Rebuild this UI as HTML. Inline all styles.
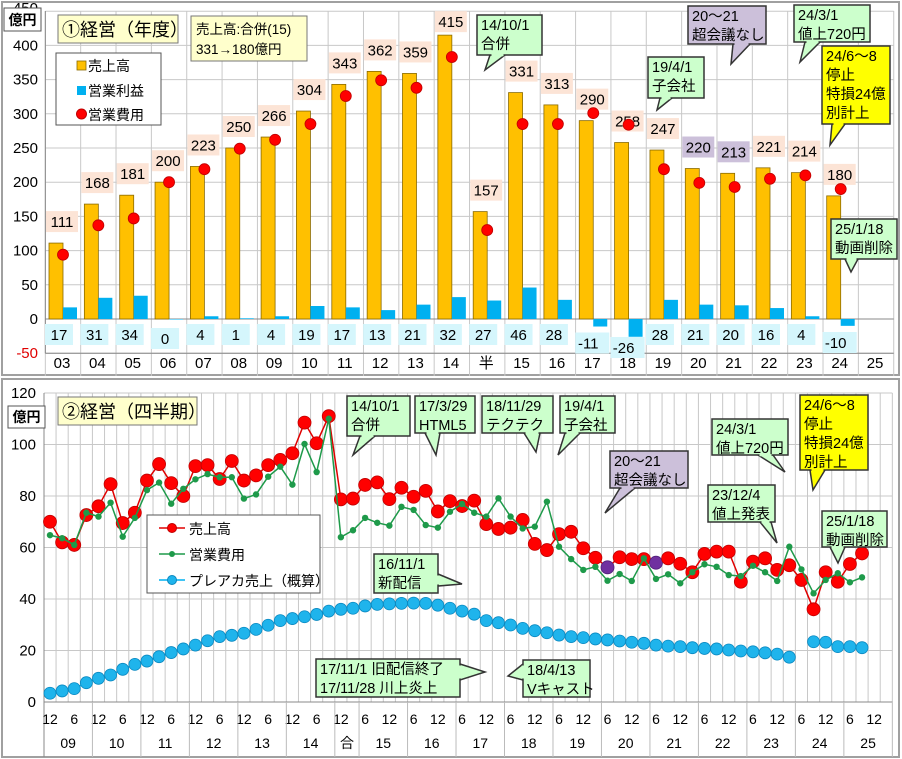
<!DOCTYPE html>
<html><head><meta charset="utf-8">
<style>
html,body{margin:0;padding:0;background:#fff;}
svg{display:block;font-family:"Liberation Sans","Noto Sans CJK JP",sans-serif;}
</style></head>
<body>
<svg id="c" width="902" height="759" viewBox="0 0 902 759" xmlns="http://www.w3.org/2000/svg">
<rect x="0" y="0" width="902" height="759" fill="#fff"/>
<g id="top"></g>
<g id="bot"></g>
<g id="ann"></g>
</svg>
<script>
// ---- annual data ----
const years = ["03","04","05","06","07","08","09","10","11","12","13","14","半","15","16","17","18","19","20","21","22","23","24","25"];
const sales = [111,168,181,200,223,250,266,304,343,362,359,415,157,331,313,290,258,247,220,213,221,214,180];
const profit = [17,31,34,0,4,1,4,19,17,13,21,32,27,46,28,-11,-26,28,21,20,16,4,-10];
const topTicks = [-50,0,50,100,150,200,250,300,350,400];
// ---- quarterly data ----
const qSales = [70,62,61,72.6,76,84.6,69.5,73.5,86,92.4,85,80,91.6,92,86.6,93.6,86,88,92,94,96.6,108.5,100.5,111,78.7,79,84.3,85.3,78.8,83.2,79.7,82,74,78,76.1,78.2,69.1,67.2,67.7,70.7,61.4,59,65.2,66.1,59.7,56,52.3,56.2,55.5,55.5,54.1,55.8,53.7,50.4,57.5,58.4,58.4,46.7,54.5,55.8,51.3,53.1,47.4,36,50.4,46.7,53.6,57.7];
const qExp = [64.8,63.6,61,73.5,72,77.4,64.2,71.5,82.3,85.2,77,82.8,86.5,88.5,87.3,87.3,79,80.6,87.5,91.4,84.4,100.2,89.3,110,64,66.7,71.5,69.6,68.5,75.8,74.6,68.7,67.7,73.9,76.9,73.5,72,79.1,72,67.4,68.1,77.8,60.3,55.5,51.3,52.5,47.1,49.7,47,55.8,47.8,49.6,46.1,50.4,53.5,52.5,49.3,48.9,52.9,50.4,47,60.3,51.5,42.2,47.4,50,46.5,48.4];
const qCard = [3.4,4.3,5.2,7.5,9.2,10.5,12.7,14.6,15.9,17.6,19.2,20.6,22.1,23.8,25.4,25.9,26.7,28.2,29.8,31.6,32.4,33.1,34,35.3,36,36.4,37.3,37.9,38.1,38.3,38.4,38.3,37.6,36.4,35.3,34.1,31.6,30.8,29.9,28.6,27.7,26.9,26,25.4,25,24.5,24.1,23.7,23.2,22.8,22.1,21.7,21.5,21.1,20.8,20.6,20.2,19.8,19.5,19.1,18.6,17.4,null,23.4,23.2,21.5,21.5,21.1];
const purpleIdx = [46,50];
const botTicks = [0,20,40,60,80,100,120];
const qYears = ["09","10","11","12","13","14","合","15","16","17","18","19","20","21","22","23","24","25"];
const qYearLen = [4,4,4,4,4,4,2,4,4,4,4,4,4,4,4,4,4,4];

const NS="http://www.w3.org/2000/svg";
function mk(parent,tag,attrs,txt){const e=document.createElementNS(NS,tag);for(const k in attrs)e.setAttribute(k,attrs[k]);if(txt!==undefined)e.textContent=txt;parent.appendChild(e);return e;}

// ===== TOP CHART =====
const T=document.getElementById('top');
const tY=v=>319-v*0.684;
const CW=35.35;
const tX=k=>63+k*CW;
const tL=tX(0)-CW/2, tR=tX(years.length)-CW/2, tTop=11;
mk(T,'rect',{x:2,y:2,width:897,height:373,fill:'#fff',stroke:'#a0a0a0','stroke-width':2});
for(let v=-50;v<=450;v+=50){mk(T,'line',{x1:tL,x2:tR,y1:tY(v),y2:tY(v),stroke:'#c8c8c8','stroke-width':1});}
for(let k=0;k<=years.length;k++){const x=tX(k)-CW/2;mk(T,'line',{x1:x,x2:x,y1:tTop,y2:376,stroke:'#c8c8c8','stroke-width':1});}
mk(T,'line',{x1:tL,x2:tR,y1:tY(0),y2:tY(0),stroke:'#888','stroke-width':1});
mk(T,'line',{x1:tL,x2:tL,y1:tTop,y2:tY(-50),stroke:'#888','stroke-width':1});
mk(T,'line',{x1:tL,x2:tR,y1:tY(-50),y2:tY(-50),stroke:'#888','stroke-width':1});
topTicks.forEach(v=>{const t=mk(T,'text',{x:38,y:tY(v)+5,'text-anchor':'end','font-size':15,fill:v<0?'#e00000':'#000'},String(v));

});
mk(T,'text',{x:38,y:tY(450)+2,'text-anchor':'end','font-size':15,fill:'#000'},'450');
years.forEach((y,k)=>{const t=mk(T,'text',{x:tX(k)-1,y:368,'text-anchor':'middle','font-size':15},y);

});
sales.forEach((s,k)=>{
 const c=tX(k);
 const b=mk(T,'rect',{x:c-14,y:tY(s),width:14,height:tY(0)-tY(s),fill:'#ffc000',stroke:'#8a6a00','stroke-width':0.8});
 
 
 const p=profit[k];
 const pb=mk(T,'rect',{x:c,y:Math.min(tY(p),tY(0)),width:14,height:Math.max(Math.abs(tY(p)-tY(0)),0.5),fill:'#00b0f0'});
 
 
 const purple=(s===220||s===213);
 let ly=tY(s)-22; if(k===11) ly=tY(s)-14;
 mk(T,'rect',{x:c-17,y:ly-10,width:32,height:21,fill:purple?'#ccc0da':'#fce4d6'});
 const st=mk(T,'text',{x:c-1,y:ly+6,'text-anchor':'middle','font-size':15},String(s));
 
 
 let py=p<0?335+Math.min(-p,20)*0.5+3:335;
 if(p===0) py=339;
 mk(T,'rect',{x:c-18,y:py-11,width:p<0?34:28,height:21,fill:'#d5f6fc'});
 const pt=mk(T,'text',{x:c-4+(p<0?-1:0),y:py+5,'text-anchor':'middle','font-size':15},String(p));
 
 
});
sales.forEach((s,k)=>{const d=mk(T,'circle',{cx:tX(k),cy:tY(s-profit[k]),r:5.5,fill:'#ff0000',stroke:'#c00000','stroke-width':0.8});

});
// header boxes
mk(T,'rect',{x:4,y:8,width:37,height:23,fill:'#fff',stroke:'#555'});
mk(T,'text',{x:22.5,y:25,'text-anchor':'middle','font-size':14,'font-weight':'bold'},'億円');
mk(T,'rect',{x:58,y:15,width:120,height:28,fill:'#ffffcc',stroke:'#777'});
mk(T,'text',{x:62,y:36,'font-size':18},'①経営（年度）');
mk(T,'rect',{x:191,y:16,width:116,height:45,fill:'#ffffcc',stroke:'#777'});
mk(T,'text',{x:196,y:34,'font-size':13.5},'売上高:合併(15)');
mk(T,'text',{x:196,y:54,'font-size':13.5},'331→180億円');
// legend
const lg=mk(T,'g',{});


mk(lg,'rect',{x:56,y:53,width:105,height:72,fill:'#fff',stroke:'#555'});
mk(lg,'rect',{x:77,y:61,width:9,height:9,fill:'#ffc000',stroke:'#8a6a00','stroke-width':0.8});
mk(lg,'text',{x:88,y:71,'font-size':14},'売上高');
mk(lg,'rect',{x:77,y:86,width:9,height:9,fill:'#00b0f0'});
mk(lg,'text',{x:88,y:96,'font-size':14},'営業利益');
mk(lg,'circle',{cx:81.5,cy:114,r:5,fill:'#ff0000',stroke:'#c00000'});
mk(lg,'text',{x:88,y:120,'font-size':14},'営業費用');

// ===== BOTTOM CHART =====
const B=document.getElementById('bot');
const bY=v=>702-v*2.575;
const bX=i=>50+i*12.12;
const bL=44, bR=bX(69.5), bTop=bY(120);
mk(B,'rect',{x:2,y:379,width:897,height:378,fill:'#fff',stroke:'#a0a0a0','stroke-width':2});
for(let i=0;i<=69;i++){const x=bX(i+0.5);mk(B,'line',{x1:x,x2:x,y1:bTop,y2:bY(0),stroke:'#c8c8c8','stroke-width':1});}
botTicks.forEach(v=>{mk(B,'line',{x1:bL,x2:bR,y1:bY(v),y2:bY(v),stroke:'#c8c8c8','stroke-width':1});
const t=mk(B,'text',{x:36,y:bY(v)+5,'text-anchor':'end','font-size':15},String(v));

});
mk(B,'line',{x1:bL,x2:bL,y1:bTop,y2:757,stroke:'#888'});
mk(B,'line',{x1:bL,x2:bR,y1:bY(0),y2:bY(0),stroke:'#888'});
for(let i=0;i<=68;i+=2){const t=mk(B,'text',{x:bX(i),y:724,'text-anchor':'middle','font-size':14},(i/2)%2===0?'12':'6');

}
let start=-0.5;
qYears.forEach((yy,j)=>{const end=start+qYearLen[j];
 mk(B,'line',{x1:bX(end),x2:bX(end),y1:bY(0),y2:757,stroke:'#bbb'});
 const t=mk(B,'text',{x:(bX(start)+bX(end))/2,y:748,'text-anchor':'middle','font-size':14},yy);
 
 
 start=end;});
// card series
let seg=[];const segs=[];
qCard.forEach((v,i)=>{if(v===null){if(seg.length)segs.push(seg);seg=[];}else seg.push([bX(i),bY(v)]);});
if(seg.length)segs.push(seg);
segs.forEach(s=>mk(B,'polyline',{points:s.map(p=>p.join(',')).join(' '),fill:'none',stroke:'#00b0f0','stroke-width':1.5}));
qCard.forEach((v,i)=>{if(v===null)return;const c=mk(B,'circle',{cx:bX(i),cy:bY(v),r:6,fill:'#1fb4ec',stroke:'#0a88c0','stroke-width':0.8});

});
mk(B,'polyline',{points:qSales.map((v,i)=>bX(i)+','+bY(v)).join(' '),fill:'none',stroke:'#e00000','stroke-width':1.5});
qSales.forEach((v,i)=>{const p=purpleIdx.includes(i);const c=mk(B,'circle',{cx:bX(i),cy:bY(v),r:6.5,fill:p?'#7030a0':'#ff0000',stroke:p?'#50207a':'#c00000','stroke-width':0.8});

});
mk(B,'polyline',{points:qExp.map((v,i)=>bX(i)+','+bY(v)).join(' '),fill:'none',stroke:'#1e9a4a','stroke-width':1.5});
qExp.forEach((v,i)=>{const c=mk(B,'circle',{cx:bX(i),cy:bY(v),r:3.2,fill:'#1e9a4a'});

});
mk(B,'rect',{x:8,y:406,width:37,height:22,fill:'#fff',stroke:'#555'});
mk(B,'text',{x:26.5,y:422,'text-anchor':'middle','font-size':14,'font-weight':'bold'},'億円');
mk(B,'rect',{x:58,y:397,width:139,height:28,fill:'#ffffcc',stroke:'#777'});
mk(B,'text',{x:62,y:418,'font-size':18},'②経営（四半期）');
const lg2=mk(B,'g',{});


mk(lg2,'rect',{x:147,y:515,width:173,height:78,fill:'#fff',stroke:'#555'});
mk(lg2,'line',{x1:159,x2:185,y1:528,y2:528,stroke:'#e00000','stroke-width':1.5});
mk(lg2,'circle',{cx:172,cy:528,r:4.5,fill:'#ff0000',stroke:'#c00000'});
mk(lg2,'text',{x:189,y:534,'font-size':14},'売上高');
mk(lg2,'line',{x1:159,x2:185,y1:554,y2:554,stroke:'#1e9a4a','stroke-width':1.5});
mk(lg2,'circle',{cx:172,cy:554,r:3,fill:'#1e9a4a'});
mk(lg2,'text',{x:189,y:560,'font-size':14},'営業費用');
mk(lg2,'line',{x1:159,x2:185,y1:580,y2:580,stroke:'#00b0f0','stroke-width':1.5});
mk(lg2,'circle',{cx:172,cy:580,r:4.5,fill:'#1fb4ec',stroke:'#0a88c0'});
mk(lg2,'text',{x:189,y:586,'font-size':14},'プレアカ売上（概算）');

// ===== CALLOUTS =====
const A=document.getElementById('ann');
const G='#ccffcc', P='#ccc0da', Yw='#ffff00';
function callout(name,x,y,w,h,lines,bg,b1,b2,tip){
 const g=mk(A,'g',{});
 
 
 mk(g,'polygon',{points:[b1,tip,b2].map(p=>p.join(',')).join(' '),fill:bg,stroke:'#333','stroke-width':1.5});
 mk(g,'rect',{x:x,y:y,width:w,height:h,fill:bg,stroke:'#333','stroke-width':1.5});
 if(b1[1]===b2[1]) mk(g,'line',{x1:b1[0]+1.5,x2:b2[0]-1.5,y1:b1[1],y2:b2[1],stroke:bg,'stroke-width':2.5});
 else mk(g,'line',{x1:b1[0],x2:b2[0],y1:b1[1]+1.5,y2:b2[1]-1.5,stroke:bg,'stroke-width':2.5});
 lines.forEach((t,i)=>mk(g,'text',{x:x+4,y:y+15+i*19,'font-size':14.5},t));
}
// top
callout('callout-merger',477,15,65,40,['14/10/1','合併'],G,[490,55],[505,55],[485,70]);
callout('callout-no-chokaigi',688,6,78,38,['20～21','超会議なし'],P,[733,44],[750,44],[731,64]);
callout('callout-price-up',794,5,76,37,['24/3/1','値上720円'],G,[805,42],[820,42],[800,62]);
callout('callout-outage',822,46,68,78,['24/6～8','停止','特損24億','別計上'],Yw,[832,124],[845,124],[830,145]);
callout('callout-subsidiary',648,57,56,41,['19/4/1','子会社'],G,[660,98],[672,98],[657,110]);
callout('callout-video-delete',831,219,66,40,['25/1/18','動画削除'],G,[845,259],[858,259],[851,272]);
// bottom
callout('callout-merger-q',347,396,63,40,['14/10/1','合併'],G,[360,436],[375,436],[353,455]);
callout('callout-html5',415,396,60,37,['17/3/29','HTML5'],G,[425,433],[440,433],[436,455]);
callout('callout-tekuteku',482,396,71,37,['18/11/29','テクテク'],G,[524,433],[540,433],[536,452]);
callout('callout-subsidiary-q',560,396,55,37,['19/4/1','子会社'],G,[565,433],[580,433],[558,455]);
callout('callout-no-chokaigi-q',610,451,78,37,['20～21','超会議なし'],P,[620,488],[635,488],[605,513]);
callout('callout-price-up-q',712,419,76,36,['24/3/1','値上720円'],G,[758,455],[773,455],[785,472]);
callout('callout-outage-q',800,395,68,75,['24/6～8','停止','特損24億','別計上'],Yw,[810,470],[825,470],[813,490]);
callout('callout-price-announce',708,485,67,37,['23/12/4','値上発表'],G,[760,522],[771,522],[777,543]);
callout('callout-video-delete-q',822,511,65,36,['25/1/18','動画削除'],G,[830,547],[845,547],[838,563]);
callout('callout-new-stream',374,554,64,39,['16/11/1','新配信'],G,[438,574],[438,586],[462,584]);
callout('callout-old-stream-end',316,659,144,38,['17/11/1 旧配信終了','17/11/28 川上炎上'],G,[460,664],[460,680],[485,672]);
callout('callout-vcast',523,660,67,37,['18/4/13','Vキャスト'],G,[523,664],[523,680],[508,676]);
</script>
</body></html>
